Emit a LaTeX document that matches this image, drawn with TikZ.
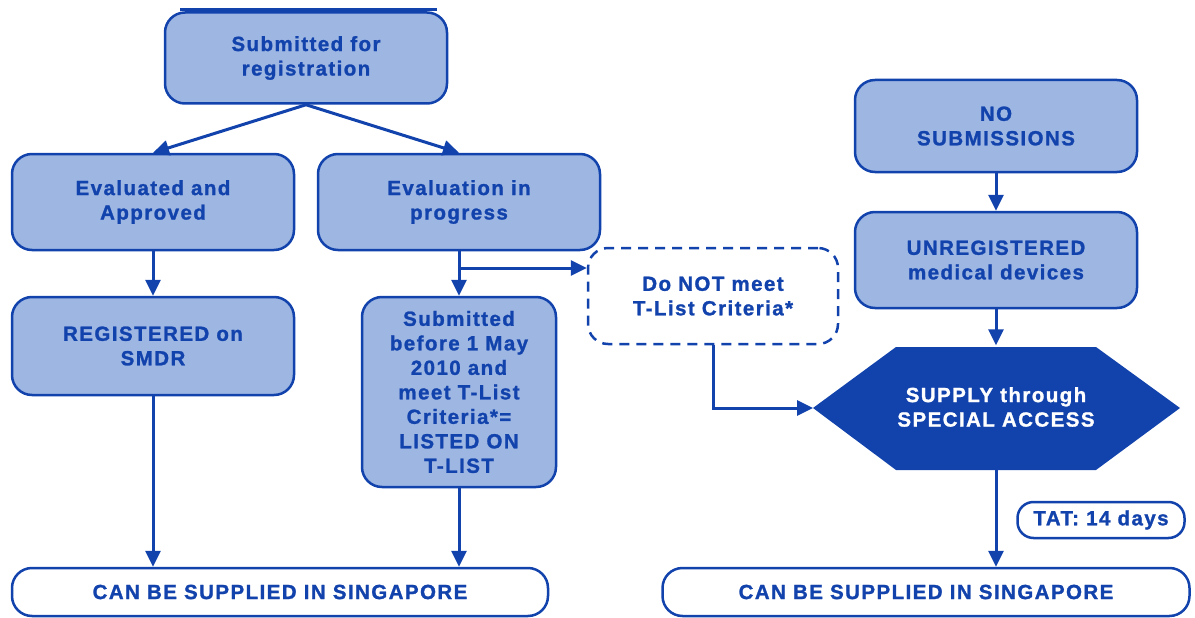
\documentclass[tikz,border=0pt]{standalone}
\usepackage{fontspec}
\newfontfamily\chartfont{Liberation Sans}[LetterSpace=7,UprightFont=*-Bold,FakeBold=1.2]
\usetikzlibrary{arrows.meta}
\definecolor{chartblue}{RGB}{18,66,172}
\definecolor{chartfill}{RGB}{157,182,226}

\begin{document}
\begin{tikzpicture}[x=1pt,y=-1pt,
    font=\chartfont\fontsize{20.5}{24.5}\selectfont,
    every node/.style={align=center,text=chartblue},
    box/.style={draw=chartblue,line width=2.5pt,fill=chartfill,rounded corners=20pt,minimum width=282pt,minimum height=96pt},
    openbox/.style={box,fill=white,dash pattern=on 10pt off 7pt,minimum width=250pt},
    endbox/.style={draw=chartblue,line width=2.5pt,fill=white,rounded corners=20pt,minimum height=48pt},
    pill/.style={draw=chartblue,line width=2.5pt,fill=white,rounded corners=16pt,minimum width=167pt,minimum height=36pt},
    flow/.style={draw=chartblue,line width=3pt,-{Triangle[length=16pt,width=15pt]}}]
  \useasboundingbox (0,0) rectangle (1195,618);
  % left branch
  \node[box,minimum height=91pt] (submit) at (306,58) {Submitted for\\registration};
  \draw[chartblue,line width=3pt] (180,10) -- (437,10);
  \node[box] (approved) at (153,202) {Evaluated and\\Approved};
  \node[box] (progress) at (459,202) {Evaluation in\\progress};
  \node[box,minimum height=98pt] (registered) at (153,346) {REGISTERED on\\SMDR};
  \node[box,minimum width=194pt,minimum height=190pt] (tlist) at (459,392)
    {Submitted\\before 1 May\\2010 and\\meet T-List\\Criteria*=\\LISTED ON\\T-LIST};
  \node[openbox] (notmeet) at (713,296) {Do NOT meet\\T-List Criteria*};
  % right branch
  \node[box,minimum height=92pt] (nosub) at (996,126) {NO\\SUBMISSIONS};
  \node[box] (unreg) at (996,260) {UNREGISTERED\\medical devices};
  \fill[chartblue] (813,408) -- (896,347) -- (1096,347) -- (1180,408) -- (1096,470) -- (896,470) -- cycle;
  \node[text=white,minimum width=200pt,minimum height=123pt] (supply) at (996,407) {SUPPLY through\\SPECIAL ACCESS};
  \coordinate (supplyW) at (813,408);
  \node[pill] (tat) at (1101,520) {TAT: 14 days};
  % outcomes
  \node[endbox,minimum width=536pt] (canL) at (280,592) {CAN BE SUPPLIED IN SINGAPORE};
  \node[endbox,minimum width=527pt] (canR) at (926,592) {CAN BE SUPPLIED IN SINGAPORE};
  \coordinate (split) at (459,268);
  \draw[flow] (submit.south) -- (approved.north);
  \draw[flow] (submit.south) -- (progress.north);
  \draw[flow] (approved) -- (registered);
  \draw[flow] (progress) -- (tlist);
  \draw[flow] (split) -- (split -| notmeet.west);
  \draw[flow] (notmeet.south) |- (supplyW);
  \draw[flow] (nosub) -- (unreg);
  \draw[flow] (unreg) -- (supply);
  \draw[flow] (registered) -- (registered |- canL.north);
  \draw[flow] (tlist) -- (canL.north -| tlist);
  \draw[flow] (supply) -- (canR.north -| supply);
\end{tikzpicture}
\end{document}
